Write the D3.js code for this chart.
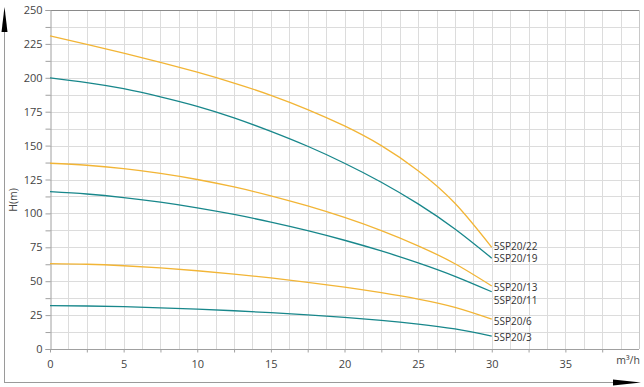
<!DOCTYPE html>
<html>
<head>
<meta charset="utf-8">
<script src="https://cdn.jsdelivr.net/npm/d3@7"></script>
<style>
  body { margin: 0; background: #fff; }
  svg { display: block; font-family: "Open Sans", "DejaVu Sans", sans-serif; }
</style>
</head>
<body>
<div class="viewport"></div>
<script>
// flow (m3/h) and head (m)
const flow = [0, 2.5, 5, 7.5, 10, 12.5, 15, 17.5, 20, 22.5, 25, 27.5, 30];
const h22 = [231, 224.7, 218.2, 211.4, 204.1, 196.1, 187.1, 176.6, 164.5, 150, 131.5, 107.5, 75];
const h19 = [200, 196.5, 192, 186, 179, 170.5, 160.5, 149.5, 137, 123, 107, 88.5, 67];
const h13 = [137, 135.5, 133, 129.5, 125, 119.5, 113, 105.5, 97, 87.3, 76.1, 62.9, 46.5];
const h11 = [116, 114.3, 111.7, 108.3, 104.1, 99.2, 93.6, 87.3, 80.2, 72.3, 63.5, 53.6, 42.2];
const h6 = [63, 62.5, 61.4, 59.8, 57.7, 55.2, 52.4, 49.2, 45.6, 41.5, 36.8, 30.7, 22];
const h3 = [32, 31.7, 31.2, 30.4, 29.4, 28.2, 26.8, 25.2, 23.3, 21.1, 18.4, 14.8, 9.5];
const models = ["5SP20/22", "5SP20/19", "5SP20/13", "5SP20/11", "5SP20/6", "5SP20/3"];
const heads = [h22, h19, h13, h11, h6, h3];
const labelY = [246.5, 258.5, 287.5, 300, 321, 337];
const xTickLabels = [0, 5, 10, 15, 20, 25, 30, 35];
const yTickLabels = [0, 25, 50, 75, 100, 125, 150, 175, 200, 225, 250];

const W = 644, H = 387;
const yellow = "#f2b536", teal = "#18878b";

const svg = d3.select(".viewport").append("svg")
  .attr("width", W).attr("height", H);

const x = d3.scaleLinear().domain([0, 40]).range([50, 639]);
const y = d3.scaleLinear().domain([0, 250]).range([349, 10]);

// grid
const grid = svg.append("g").attr("stroke", "#dcdcdc").attr("stroke-width", 1);
d3.range(1, 32).forEach(i => {
  const gx = Math.round(x(i * 1.25)) + 0.5;
  grid.append("line").attr("x1", gx).attr("x2", gx).attr("y1", y(250)).attr("y2", y(0));
});
d3.range(1, 20).forEach(i => {
  const gy = Math.round(y(i * 12.5)) + 0.5;
  grid.append("line").attr("x1", x(0)).attr("x2", x(40)).attr("y1", gy).attr("y2", gy);
});

// frame
svg.append("line").attr("x1", x(0)).attr("x2", x(40) + 0.5)
  .attr("y1", Math.round(y(250)) + 0.5).attr("y2", Math.round(y(250)) + 0.5)
  .attr("stroke", "#8a8a8a");
svg.append("line").attr("x1", Math.round(x(40)) + 0.5).attr("x2", Math.round(x(40)) + 0.5)
  .attr("y1", y(250)).attr("y2", y(0)).attr("stroke", "#c8c8c8");

// axes
const yAxis = d3.axisLeft(y).tickValues(d3.range(0, 251, 12.5)).tickSize(5).tickPadding(3)
  .tickFormat(d => yTickLabels.includes(d) ? d : "");
const xAxis = d3.axisBottom(x).tickValues(d3.range(0, 37.6, 2.5)).tickSize(3).tickPadding(8)
  .tickFormat(d => xTickLabels.includes(d) ? d : "");

const gy = svg.append("g").attr("transform", "translate(" + (Math.round(x(0)) + 0.5) + ",0)").call(yAxis);
const gx = svg.append("g").attr("transform", "translate(0," + (Math.round(y(0)) + 0.5) + ")").call(xAxis);
[gy, gx].forEach(g => {
  g.select(".domain").attr("stroke", "#a0a0a0");
  g.selectAll(".tick line").attr("stroke", "#a0a0a0");
  g.selectAll(".tick text").attr("fill", "#444").attr("font-size", 11)
    .attr("font-family", "\"Open Sans\", sans-serif");
});
gx.select(".domain").attr("d", "M" + x(0) + ",0H" + x(40));

svg.append("text").attr("x", 628).attr("y", y(0) + 15).attr("text-anchor", "middle")
  .attr("font-size", 10.5).attr("fill", "#444").text("m³/h");

// outer arrows
svg.append("line").attr("x1", 4.5).attr("x2", 4.5).attr("y1", 20).attr("y2", 382.5)
  .attr("stroke", "#9a9a9a");
svg.append("line").attr("x1", 4).attr("x2", 620).attr("y1", 382.5).attr("y2", 382.5)
  .attr("stroke", "#9a9a9a");
svg.append("path").attr("d", "M4.5,7 L7.5,32 L1.5,32 Z").attr("fill", "#000");
svg.append("path").attr("d", "M641,382.5 L613,379.5 L613,385.5 Z").attr("fill", "#000");

svg.append("text").attr("transform", "translate(17,200) rotate(-90)")
  .attr("text-anchor", "middle").attr("font-size", 10.5).attr("fill", "#444").text("H(m)");

// curves
const line = d3.line()
  .x((d, i) => x(flow[i]))
  .y(d => y(d))
  .curve(d3.curveNatural);

svg.append("g").selectAll("path")
  .data(heads)
  .enter()
  .append("path")
  .attr("fill", "none")
  .attr("stroke", (d, i) => i % 2 === 0 ? yellow : teal)
  .attr("stroke-width", 1.3)
  .attr("d", line);

svg.append("g").selectAll("text")
  .data(models)
  .enter()
  .append("text")
  .attr("x", x(30) + 2)
  .attr("y", (d, i) => labelY[i])
  .attr("dy", "0.35em")
  .attr("font-size", 10)
  .attr("fill", "#333")
  .text(d => d);
</script>
</body>
</html>
